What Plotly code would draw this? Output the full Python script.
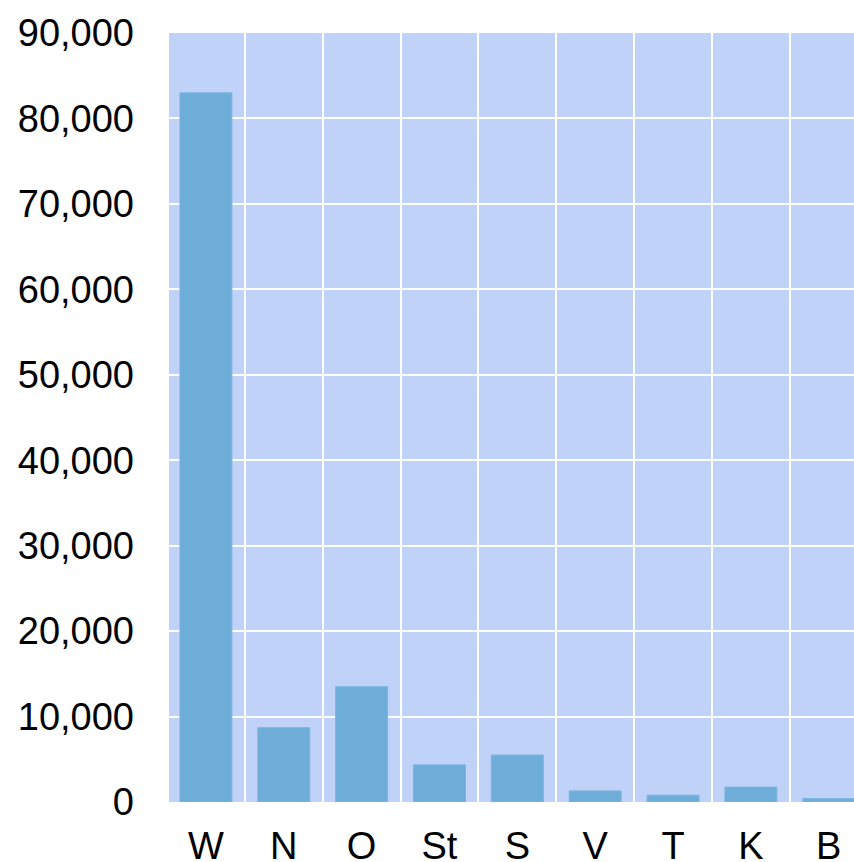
import plotly.graph_objects as go

categories = ["W", "N", "O", "St", "S", "V", "T", "K", "B"]
values = [83000, 8700, 13500, 4350, 5500, 1300, 800, 1750, 400]
y_tickvals = [0, 10000, 20000, 30000, 40000, 50000, 60000, 70000, 80000, 90000]
y_ticktext = ["0", "10,000", "20,000", "30,000", "40,000", "50,000", "60,000", "70,000", "80,000", "90,000"]

fig = go.Figure(go.Bar(
    x=categories, y=values,
    marker=dict(color="#6fadd9", line=dict(color="#7db5e2", width=1)),
))

fig.update_layout(
    width=854, height=862,
    margin=dict(l=169, r=0, t=33, b=60),
    paper_bgcolor="white",
    plot_bgcolor="#c0d2f8",
    bargap=0.332,
    showlegend=False,
    font=dict(family="Liberation Sans, Arial, sans-serif", size=38, color="black"),
)
fig.update_xaxes(
    range=[-0.474, 8.324],
    tickson="boundaries",
    showgrid=True, gridcolor="white", gridwidth=2,
    ticks="", ticklabelstandoff=18,
    tickfont=dict(size=38),
    showline=False, zeroline=False, automargin=False,
)
fig.update_yaxes(
    range=[0, 90000],
    tickvals=y_tickvals, ticktext=y_ticktext,
    showgrid=True, gridcolor="white", gridwidth=2,
    zeroline=False, ticks="", ticklabelstandoff=34,
    tickfont=dict(size=38),
    showline=False, automargin=False,
)

fig.write_html(
    "out.html",
    config={"displayModeBar": False},
    post_script="document.body.style.margin='0';document.body.style.overflow='hidden';",
)
